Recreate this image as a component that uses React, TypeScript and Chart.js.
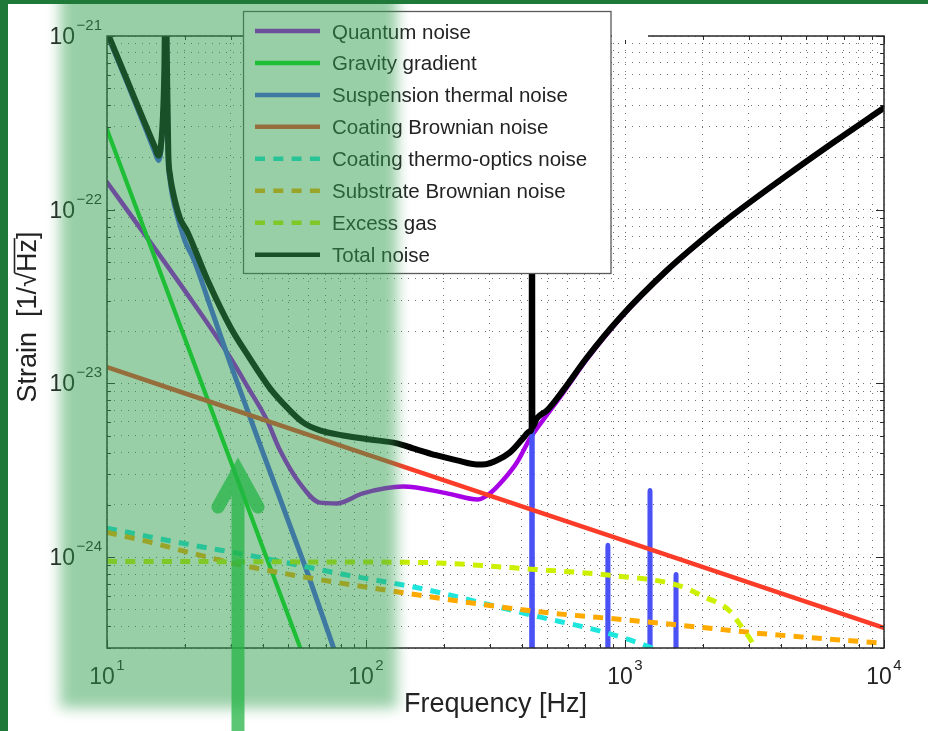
import React, { useEffect, useRef } from 'react';
import { Chart, registerables } from 'chart.js';

Chart.register(...registerables);

// ---------------- data ----------------
const seriesNames = [
  'Quantum noise',
  'Gravity gradient',
  'Suspension thermal noise',
  'Coating Brownian noise',
  'Coating thermo-optics noise',
  'Substrate Brownian noise',
  'Excess gas',
  'Total noise',
];

const quantumFreq = [10, 13.8, 20, 29.9, 35, 41.5, 46.6, 55.6, 66.4, 77.3, 97.3, 139, 205.6, 270.5, 301, 338, 383, 430, 500, 576, 713, 956, 1452, 1948, 2614, 4074, 6353, 10000];
const quantumStrain = [1.44e-22, 7.41e-23, 3.41e-23, 1.41e-23, 9.5e-24, 6.12e-24, 4.11e-24, 2.65e-24, 2.06e-24, 2.04e-24, 2.33e-24, 2.55e-24, 2.33e-24, 2.15e-24, 2.33e-24, 2.77e-24, 3.52e-24, 4.83e-24, 6.6e-24, 8.8e-24, 1.38e-23, 2.36e-23, 4.45e-23, 6.53e-23, 9.3e-23, 1.515e-22, 2.42e-22, 3.84e-22];

const gravityFreq = [10, 15, 20, 30, 40, 50, 60];
const gravityStrain = [2.9e-22, 5.73e-23, 1.81e-23, 3.58e-24, 1.13e-24, 4.64e-25, 2.24e-25];

const suspensionFreq = [10, 12, 14, 15.3, 15.8, 16.1, 16.4, 16.65, 16.85, 17.05, 17.25, 17.5, 17.85, 19.1, 20, 21.6, 25, 30, 40, 50, 60, 75, 90,
  435.3, 437.5, 439.7, 856, 859, 862, 1245, 1249, 1253, 1569, 1574, 1579];
const suspensionStrain = [1.03e-21, 5.3e-22, 3.0e-22, 2.15e-22, 1.92e-22, 2.1e-22, 3.0e-22, 6.0e-22, 2.4e-21, 6.0e-22, 1.95e-22, 1.5e-22, 1.22e-22, 8.2e-23, 6.6e-23, 5.2e-23, 2.8e-23, 1.29e-23, 4.0e-24, 1.63e-24, 7.8e-25, 3.0e-25, 1.4e-25,
  1e-27, 1e-21, 1e-27, 1e-27, 1.17e-24, 1e-27, 1e-27, 2.42e-24, 1e-27, 1e-27, 7.96e-25, 1e-27];

const coatingBrownFreq = [10, 100, 1000, 10000];
const coatingBrownStrain = [1.24e-23, 3.92e-24, 1.24e-24, 3.92e-25];

const coatingThermoFreq = [10, 19.7, 39, 81.5, 161.6, 441, 837, 1238, 1500];
const coatingThermoStrain = [1.47e-24, 1.2e-24, 9.97e-25, 7.97e-25, 6.62e-25, 4.62e-25, 3.69e-25, 3.05e-25, 2.7e-25];

const substrateFreq = [10, 14.66, 21.5, 30.7, 47.8, 135, 449, 1045, 1948, 3319, 10000];
const substrateStrain = [1.39e-24, 1.22e-24, 1.05e-24, 9.22e-25, 8.08e-25, 6.28e-25, 4.88e-25, 4.33e-25, 3.95e-25, 3.64e-25, 3.19e-25];

const excessGasFreq = [10, 30, 100, 160, 449, 875, 1602, 2037, 2521, 2830, 3093, 3300];
const excessGasStrain = [9.46e-25, 9.42e-25, 9.37e-25, 9.33e-25, 8.5e-25, 7.86e-25, 6.88e-25, 5.88e-25, 4.94e-25, 3.94e-25, 3.24e-25, 2.6e-25];

const totalFreq = [10, 12, 14, 15.3, 15.8, 16.1, 16.4, 16.65, 16.85, 17.05, 17.25, 17.5, 17.85, 19.1, 20.4, 24.5, 30, 35, 42.6, 49.5, 57.1, 66.4, 81.5, 103.6, 131.7, 151.9, 188, 224.6, 268.3, 290, 320.5, 359.7, 403.8, 429.8, 436, 437.5, 439, 457, 500, 576, 713, 956, 1452, 1948, 2614, 4074, 6353, 10000];
const totalStrain = [1.06e-21, 5.5e-22, 3.15e-22, 2.3e-22, 2.05e-22, 2.25e-22, 3.2e-22, 6.3e-22, 2.5e-21, 6.3e-22, 2.1e-22, 1.6e-22, 1.33e-22, 9.0e-23, 7.5e-23, 3.9e-23, 2.1e-23, 1.45e-23, 9.37e-24, 7.28e-24, 5.97e-24, 5.37e-24, 5.02e-24, 4.76e-24, 4.52e-24, 4.23e-24, 3.85e-24, 3.61e-24, 3.42e-24, 3.43e-24, 3.61e-24, 4.01e-24, 4.83e-24, 5.3e-24, 5.5e-24, 1e-21, 5.6e-24, 6.3e-24, 7.0e-24, 9.1e-24, 1.41e-23, 2.39e-23, 4.48e-23, 6.56e-23, 9.33e-23, 1.52e-22, 2.43e-22, 3.86e-22];

const xMin = 10, xMax = 10000;
const yMin = 3e-25, yMax = 1e-21;
const xDecades = [10, 100, 1000, 10000];
const yDecades = [1e-25, 1e-24, 1e-23, 1e-22, 1e-21];
const xTitle = 'Frequency [Hz]';
const yTitleMain = 'Strain  [1/\u221A';
const yTitleRoot = 'Hz';
const yTitleEnd = ']';

// ---------------- styles ----------------
const FONT = '"Liberation Sans", Arial, Helvetica, sans-serif';
const TEXT = '#232323';
const DASH = [10, 8.3];

function buildTicks(decades: number[], min: number, max: number) {
  const out: number[] = [];
  decades.forEach((d) => {
    for (let m = 1; m <= 9; m++) {
      const v = m * d;
      if (v >= min * 0.9999 && v <= max * 1.0001) out.push(v);
    }
  });
  return out;
}
const xTickValues = buildTicks(xDecades, xMin, xMax);
const yTickValues = buildTicks(yDecades, yMin, yMax);
const isMajor = (v: number) => Math.abs(Math.log10(v) - Math.round(Math.log10(v))) < 1e-6;

function pts(f: number[], h: number[]) {
  return f.map((x, i) => ({ x, y: h[i] }));
}

function line(label: string, f: number[], h: number[], color: string, width: number, dashed: boolean, order: number) {
  return {
    label,
    data: pts(f, h),
    borderColor: color,
    backgroundColor: color,
    borderWidth: width,
    borderDash: dashed ? DASH : [],
    borderCapStyle: dashed ? 'butt' : 'round',
    borderJoinStyle: 'round',
    pointRadius: 0,
    pointHoverRadius: 0,
    fill: false,
    cubicInterpolationMode: 'monotone',
    order,
  };
}

function drawSup(ctx: any, exp: number, x: number, baseY: number, align: 'center' | 'right') {
  const base = '10';
  const e = exp < 0 ? '\u2212' + Math.abs(exp) : String(exp);
  ctx.font = `23px ${FONT}`;
  const bw = ctx.measureText(base).width;
  ctx.font = `15px ${FONT}`;
  const ew = ctx.measureText(e).width;
  const gap = 1.5;
  const total = bw + gap + ew;
  const start = align === 'center' ? x - total / 2 : x - total;
  ctx.textAlign = 'left';
  ctx.textBaseline = 'alphabetic';
  ctx.fillStyle = TEXT;
  ctx.font = `23px ${FONT}`;
  ctx.fillText(base, start, baseY);
  ctx.font = `15px ${FONT}`;
  ctx.fillText(e, start + bw + gap, baseY - 14);
}

const decoPlugin = {
  id: 'deco',
  beforeDraw(chart: any) {
    const ctx = chart.ctx;
    ctx.save();
    ctx.fillStyle = '#ffffff';
    ctx.fillRect(0, 0, chart.width, chart.height);
    ctx.restore();
  },
  afterDatasetsDraw(chart: any) {
    const ctx = chart.ctx;
    const a = chart.chartArea;
    const xs = chart.scales.x;
    const ys = chart.scales.y;
    ctx.save();

    // tick marks (inward, on all four sides)
    ctx.strokeStyle = '#2a2a2a';
    ctx.lineWidth = 1;
    ctx.beginPath();
    xTickValues.forEach((v) => {
      const px = Math.round(xs.getPixelForValue(v)) + 0.5;
      const len = isMajor(v) ? 8 : 4;
      ctx.moveTo(px, a.bottom); ctx.lineTo(px, a.bottom - len);
      ctx.moveTo(px, a.top); ctx.lineTo(px, a.top + len);
    });
    yTickValues.forEach((v) => {
      const py = Math.round(ys.getPixelForValue(v)) + 0.5;
      const len = isMajor(v) ? 8 : 4;
      ctx.moveTo(a.left, py); ctx.lineTo(a.left + len, py);
      ctx.moveTo(a.right, py); ctx.lineTo(a.right - len, py);
    });
    ctx.stroke();

    // axes box
    ctx.lineWidth = 1.5;
    ctx.strokeRect(a.left, a.top, a.right - a.left, a.bottom - a.top);

    // gap in the top border right of the legend
    ctx.fillStyle = '#ffffff';
    ctx.fillRect(612, a.top - 4, 36, 8);

    // tick labels
    xDecades.forEach((v) => {
      if (v < xMin || v > xMax) return;
      drawSup(ctx, Math.round(Math.log10(v)), xs.getPixelForValue(v), a.bottom + 36, 'center');
    });
    yDecades.forEach((v) => {
      if (v < yMin || v > yMax) return;
      drawSup(ctx, Math.round(Math.log10(v)), a.left - 5, ys.getPixelForValue(v) + 8, 'right');
    });

    // axis titles
    ctx.fillStyle = TEXT;
    ctx.font = `27px ${FONT}`;
    ctx.textAlign = 'center';
    ctx.textBaseline = 'alphabetic';
    ctx.fillText(xTitle, (a.left + a.right) / 2, 712);

    ctx.save();
    ctx.translate(36, 317);
    ctx.rotate(-Math.PI / 2);
    ctx.font = `27px ${FONT}`;
    const w1 = ctx.measureText(yTitleMain).width;
    const w2 = ctx.measureText(yTitleRoot).width;
    const w3 = ctx.measureText(yTitleEnd).width;
    const W = w1 + w2 + w3;
    ctx.textAlign = 'left';
    ctx.fillText(yTitleMain, -W / 2, 0);
    ctx.fillText(yTitleRoot, -W / 2 + w1, 0);
    ctx.fillText(yTitleEnd, -W / 2 + w1 + w2, 0);
    ctx.strokeStyle = TEXT;
    ctx.lineWidth = 1.6;
    ctx.beginPath();
    ctx.moveTo(-W / 2 + w1 - 1, -21.5);
    ctx.lineTo(-W / 2 + w1 + w2 + 1, -21.5);
    ctx.stroke();
    ctx.restore();

    // legend
    const lx = 243.5, ly = 11.5, lw = 367.5, lh = 262;
    ctx.fillStyle = '#ffffff';
    ctx.fillRect(lx, ly, lw, lh);
    ctx.strokeStyle = '#5a5a5a';
    ctx.lineWidth = 1.3;
    ctx.strokeRect(lx, ly, lw, lh);
    chart.data.datasets.forEach((ds: any, i: number) => {
      const yy = 31 + i * 31.95;
      ctx.save();
      ctx.strokeStyle = ds.borderColor;
      ctx.lineWidth = 4.5;
      ctx.setLineDash(ds.borderDash || []);
      ctx.lineCap = 'butt';
      ctx.beginPath();
      ctx.moveTo(255, yy);
      ctx.lineTo(320, yy);
      ctx.stroke();
      ctx.restore();
      ctx.fillStyle = TEXT;
      ctx.font = `20.5px ${FONT}`;
      ctx.textAlign = 'left';
      ctx.textBaseline = 'alphabetic';
      ctx.fillText(ds.label, 332, yy + 7.5);
    });

    // translucent green highlight
    ctx.save();
    ctx.filter = 'blur(7px)';
    ctx.fillStyle = 'rgba(50,160,80,0.5)';
    ctx.fillRect(60, -40, 337, 748);
    ctx.restore();

    // arrow
    ctx.save();
    ctx.strokeStyle = 'rgba(36,180,70,0.75)';
    ctx.lineWidth = 13;
    ctx.lineCap = 'round';
    ctx.lineJoin = 'miter';
    ctx.beginPath();
    ctx.moveTo(238, 760);
    ctx.lineTo(238, 474);
    ctx.moveTo(218, 507);
    ctx.lineTo(238, 471);
    ctx.lineTo(258, 507);
    ctx.stroke();
    ctx.restore();

    // frame
    ctx.fillStyle = '#1f7a3a';
    ctx.fillRect(0, 0, chart.width, 4);
    ctx.fillRect(0, 0, 8, chart.height);

    ctx.restore();
  },
};

export default function App() {
  const ref = useRef<HTMLCanvasElement | null>(null);

  useEffect(() => {
    const canvas = ref.current;
    if (!canvas) return;
    const datasets = [
      line(seriesNames[0], quantumFreq, quantumStrain, '#a800e6', 4.5, false, 7),
      line(seriesNames[1], gravityFreq, gravityStrain, '#0adc1e', 4.2, false, 6),
      line(seriesNames[2], suspensionFreq, suspensionStrain, '#4a52f5', 5, false, 5),
      line(seriesNames[3], coatingBrownFreq, coatingBrownStrain, '#fa3c28', 4.5, false, 4),
      line(seriesNames[4], coatingThermoFreq, coatingThermoStrain, '#1ee6dc', 5, true, 3),
      line(seriesNames[5], substrateFreq, substrateStrain, '#ffaa00', 5, true, 2),
      line(seriesNames[6], excessGasFreq, excessGasStrain, '#cdf000', 5, true, 1),
      line(seriesNames[7], totalFreq, totalStrain, '#000000', 6, false, 0),
    ];
    const gridCommon = {
      display: true,
      drawTicks: false,
      color: 'rgba(0,0,0,0.55)',
      lineWidth: 1,
    };
    const chart = new Chart(canvas, {
      type: 'line',
      data: { datasets } as any,
      options: {
        responsive: false,
        maintainAspectRatio: false,
        devicePixelRatio: 1,
        animation: false,
        events: [],
        layout: { padding: { left: 107, top: 36, right: 44, bottom: 83 } },
        plugins: {
          legend: { display: false },
          tooltip: { enabled: false },
        },
        scales: {
          x: {
            type: 'logarithmic',
            min: xMin,
            max: xMax,
            ticks: { display: false },
            grid: gridCommon,
            border: { display: false, dash: [1, 6] },
            afterBuildTicks: (s: any) => { s.ticks = xTickValues.map((v) => ({ value: v, major: isMajor(v) })); },
            afterFit: (s: any) => { s.height = 0; },
          },
          y: {
            type: 'logarithmic',
            min: yMin,
            max: yMax,
            ticks: { display: false },
            grid: gridCommon,
            border: { display: false, dash: [1, 6] },
            afterBuildTicks: (s: any) => { s.ticks = yTickValues.map((v) => ({ value: v, major: isMajor(v) })); },
            afterFit: (s: any) => { s.width = 0; },
          },
        },
      } as any,
      plugins: [decoPlugin],
    });
    return () => chart.destroy();
  }, []);

  return (
    <div style={{ position: 'fixed', left: 0, top: 0, width: 928, height: 731, background: '#fff' }}>
      <canvas ref={ref} width={928} height={731} style={{ display: 'block', width: 928, height: 731 }} />
    </div>
  );
}
